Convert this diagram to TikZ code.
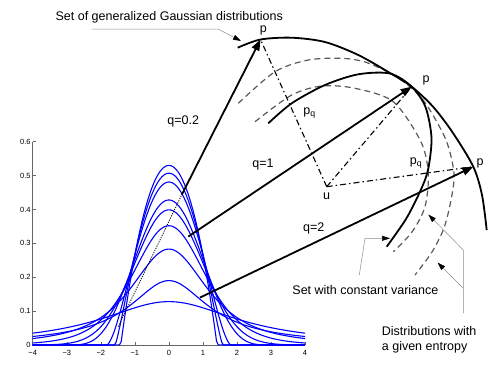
\documentclass[tikz,border=0pt]{standalone}
\usepackage{fontspec}
\setmainfont{Liberation Sans}
\usepackage{tikz}
\usetikzlibrary{arrows.meta}

\begin{document}
\begin{tikzpicture}[x=1pt,y=-1pt,
  lbl/.style={font=\fontsize{12.5}{15}\selectfont,inner sep=0pt},
  ticklbl/.style={font=\fontsize{7.5}{9}\selectfont,inner sep=0pt},
  gcurve/.style={blue,line width=1.1pt},
  bigarrow/.style={line width=1.8pt,-{Triangle[length=11pt,width=8pt]}},
  setarc/.style={line width=1.8pt},
  entarc/.style={black!65,line width=1.2pt,dash pattern=on 6pt off 4pt},
  dashdot/.style={line width=1.1pt,dash pattern=on 6pt off 3pt on 1.5pt off 3pt},
  leader/.style={black!45,line width=0.5pt,-{Triangle[length=8pt,width=5pt,color=black]}}]

\useasboundingbox (0,0) rectangle (501,376);

% Plot of the distributions
\begin{scope}[shift={(168.9,345)},x=34.04pt,y=338.9pt]
  \draw[black!60,line width=0.5pt] (-4,0.6) -- (-4,0) -- (4,0);
  \foreach \t in {0,0.1,0.2,0.3,0.4,0.5,0.6}{
    \draw[black!60,line width=0.5pt] (-4,\t) -- ++(3pt,0);
    \node[ticklbl,anchor=east] (yl\t) at ([xshift=-2pt]-4,\t) {\t};
  }
  \foreach \t/\s in {-4/−4,-3/−3,-2/−2,-1/−1,0/0,1/1,2/2,3/3,4/4}{
    \draw[black!60,line width=0.5pt] (\t,0) -- ++(0,3pt);
    \node[ticklbl] (xl\t) at ([yshift=-8pt]\t,0) {\s};
  }

  % compact support
  \foreach \a/\k/\m in {0.530/0.5/1,0.507/0.4/1.25,0.481/0.3/1.667,0.428/0.1/5}
    \draw[gcurve] plot[domain=-4:4,samples=161] (\x,{\a*max(0.001,1-\k*\x*\x)^\m});
  % gaussian
  \draw[gcurve] plot[domain=-4:4,samples=121] (\x,{0.3989*exp(-\x*\x/2)});
  % heavy tails
  \foreach \a/\k/\m in {0.352/0.15/3.333,0.283/0.35/1.4286,0.19/0.575/0.87,0.128/0.1667/1}
    \draw[gcurve] plot[domain=-4:4,samples=121] (\x,{\a*(1+\k*\x*\x)^(-\m)});

  \coordinate (d0) at (-1.49,0.054);
  \coordinate (s02) at (0.376,0.443);
  \coordinate (s1) at (0.57,0.32);
  \coordinate (s2) at (0.914,0.14);
  \draw[line width=0.8pt,dash pattern=on 1.2pt off 1.2pt] (d0) -- (s02);
\end{scope}

% Points
\coordinate (u) at (326.7,186.7);
\coordinate (p1) at (260.5,39.5);
\coordinate (p2) at (411.7,86.7);
\coordinate (p3) at (473.3,166.7);

% Entropy sets
\draw[entarc] plot[smooth] coordinates {(238.3,103.3) (275,71.7) (308.3,60) (341.7,58.3) (365,62) (390,73) (409,86) (426,104) (446,140) (454,173.3) (451,200) (444,228) (432,252) (415,275)};
\draw[entarc] plot[smooth] coordinates {(255,121.7) (291.7,95) (322,86) (355,88.3) (393.3,101.7) (420.8,141.5) (428.3,173.3) (425,206.7) (412,232) (393.3,251.7)};

% Gaussian sets
\draw[setarc] plot[smooth] coordinates {(237.7,47.7) (260.5,39.5) (291.7,37.7) (325,42) (358.3,55) (390,73) (411.7,86.7) (433.3,107) (453,133) (473.3,166.7) (482,195) (486.7,230)};
\draw[setarc] plot[smooth] coordinates {(268.3,123.3) (291.7,103.3) (325,85) (358.3,74.3) (390,73.5) (411.7,86.7) (425.5,107) (431.5,138) (428,170) (420,191.7) (406,219) (386.7,246.7)};

% Dash-dot lines from u
\draw[dashdot] (u) -- (p1);
\draw[dashdot] (u) -- (p2);
\draw[dashdot] (u) -- (p3);

% Arrows
\draw[bigarrow] (s02) -- (p1);
\draw[bigarrow] (s1) -- (p2);
\draw[bigarrow] (s2) -- (p3);

% Labels
\node[lbl] (lp1) at (263.3,30) {p};
\node[lbl] (lp2) at (426,80) {p};
\node[lbl] (lp3) at (480,163.3) {p};
\node[lbl] (lpq1) at (309.5,113.3) {p\textsubscript{q}};
\node[lbl] (lpq2) at (416,163.3) {p\textsubscript{q}};
\node[lbl] (lu) at (326.7,196.7) {u};
\node[lbl] (lq02) at (183.3,121.7) {q=0.2};
\node[lbl] (lq1) at (263,164.3) {q=1};
\node[lbl] (lq2) at (313.8,228) {q=2};

\node[lbl] (lgauss) at (169.2,17.3) {Set of generalized Gaussian distributions};
\node[lbl] (lvar) at (365.4,290) {Set with constant variance};
\node[lbl,align=left,anchor=west] (lent) at (381.7,340.2) {Distributions with\\a given entropy};

% Leaders
\coordinate (g0) at (91.7,29);
\coordinate (g1) at (218,29);
\coordinate (g2) at (241,41);
\draw[leader] (g0) -- (g1) -- (g2);
\coordinate (v0) at (359.3,275);
\coordinate (v1) at (365,238.3);
\coordinate (v2) at (390,238.3);
\draw[leader] (v0) -- (v1) -- (v2);
\coordinate (e0) at (463.3,313.3);
\coordinate (e1) at (463.3,250);
\coordinate (e2) at (428.3,214.5);
\coordinate (e3) at (463.3,288.3);
\coordinate (e4) at (437.5,262.5);
\draw[leader] (e0) -- (e1) -- (e2);
\draw[leader] (e3) -- (e4);

\end{tikzpicture}
\end{document}
